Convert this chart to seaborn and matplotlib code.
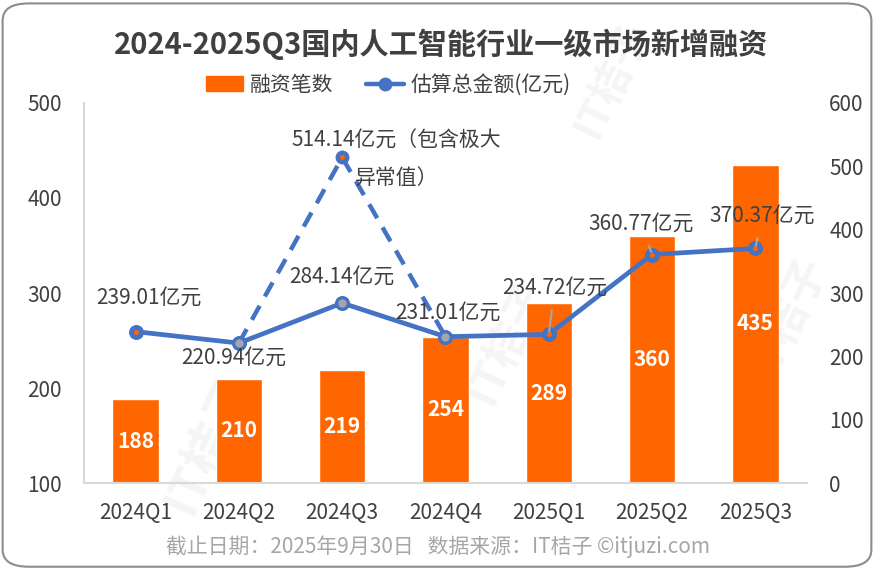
import matplotlib
matplotlib.use('Agg')
import matplotlib.pyplot as plt
from matplotlib.patches import FancyBboxPatch, Patch
from matplotlib.lines import Line2D
import seaborn as sns
import pandas as pd
import numpy as np

# data
quarters = ['2024Q1', '2024Q2', '2024Q3', '2024Q4', '2025Q1', '2025Q2', '2025Q3']
deal_counts = [188, 210, 219, 254, 289, 360, 435]
amounts = [239.01, 220.94, 284.14, 231.01, 234.72, 360.77, 370.37]
outlier_amount = 514.14
outlier_idx = 2

title = '2024-2025Q3国内人工智能行业一级市场新增融资'
footer = '截止日期：2025年9月30日   数据来源：IT桔子 ©itjuzi.com'

ORANGE = '#FF6600'
BLUE = '#4472C4'
TXT = '#404040'

sns.set_style('white')
plt.rcParams['font.family'] = ['Noto Sans CJK SC', 'DejaVu Sans']

fig = plt.figure(figsize=(8.74, 5.69), dpi=100)

# faint watermarks
for (wx, wy, rot, fs) in [(0.24, 0.22, 65, 36), (0.70, 0.86, 65, 30), (0.90, 0.44, 65, 32), (0.58, 0.40, 65, 32)]:
    fig.text(wx, wy, 'IT桔子', rotation=rot, fontsize=fs, color='#f5f5f5',
             ha='center', va='center', fontweight='bold', zorder=-1)

ax = fig.add_axes([0.0961, 0.1511, 0.8272, 0.6679])
ax.patch.set_alpha(0)
df = pd.DataFrame({'quarter': quarters, 'count': deal_counts, 'amount': amounts})
sns.barplot(data=df, x='quarter', y='count', color=ORANGE, width=0.45,
            saturation=1, ax=ax, zorder=2)
ax.set_ylim(100, 500)
ax.set_xlim(-0.5, 6.5)
ax.set_yticks([100, 200, 300, 400, 500])
ax.set_xlabel('')
ax.set_ylabel('')
ax.tick_params(axis='y', length=0, labelsize=15, colors=TXT, pad=16)
ax.tick_params(axis='x', length=0, labelsize=15, colors=TXT, pad=14)
for s in ['top', 'right']:
    ax.spines[s].set_visible(False)
for s in ['left', 'bottom']:
    ax.spines[s].set_color('#d9d9d9')
    ax.spines[s].set_linewidth(1.5)

for i, c in enumerate(deal_counts):
    ax.text(i, (c + 100) / 2, str(c), ha='center', va='center', color='white',
            fontsize=15, fontweight='bold', zorder=3)

ax2 = ax.twinx()
ax2.set_ylim(0, 600)
ax2.set_yticks(range(0, 700, 100))
ax2.tick_params(axis='y', length=0, labelsize=15, colors=TXT, pad=16)
for s in ax2.spines.values():
    s.set_visible(False)

xs = np.arange(len(quarters))
# dashed path through the outlier value
ax2.plot([outlier_idx - 1, outlier_idx, outlier_idx + 1],
         [amounts[outlier_idx - 1], outlier_amount, amounts[outlier_idx + 1]],
         color=BLUE, lw=3.2, dashes=(3.6, 2.4), zorder=2)
ax2.plot(outlier_idx, outlier_amount, 'o', ms=9, mfc=BLUE, mec=BLUE, zorder=2)

sns.lineplot(x=xs, y=amounts, ax=ax2, color=BLUE, lw=3.4, marker='o', ms=10,
             markerfacecolor=BLUE, markeredgecolor=BLUE, zorder=4)
gray_idx = [1, 2, 3]
ax2.plot(xs[gray_idx], np.array(amounts)[gray_idx], 'o', ms=8, mfc='#a6a6a6',
         mec=BLUE, mew=2, zorder=5)
dot_idx = [0, 4, 5, 6]
ax2.plot(xs[dot_idx], np.array(amounts)[dot_idx], 'o', ms=2.5, mfc=ORANGE,
         mec=ORANGE, zorder=6)
ax2.plot(outlier_idx, outlier_amount, 'o', ms=2.5, mfc=ORANGE, mec=ORANGE, zorder=6)

# label offsets in pixels
offsets = [(13, 34), (-5, -15), (0, 26), (2, 24), (6, 47), (-11, 31), (7, 33)]
for i, v in enumerate(amounts):
    kw = {}
    if i >= 4:
        kw['arrowprops'] = dict(arrowstyle='-', color='#a6a6a6', lw=1.5,
                                shrinkA=6, shrinkB=2)
    ax2.annotate(f'{v:.2f}亿元', (i, v), xytext=offsets[i], textcoords='offset pixels',
                 ha='center', va='center', fontsize=15, color=TXT, zorder=7, **kw)

ax2.annotate(f'{outlier_amount:.2f}亿元（包含极大\n异常值）', (outlier_idx, outlier_amount),
             xytext=(54, -2), textcoords='offset pixels', ha='center', va='center',
             multialignment='center', fontsize=15, color=TXT, linespacing=1.85, zorder=7)

ax.set_zorder(1)
ax2.set_zorder(2)

fig.text(0.505, 1 - 44 / 569, title, ha='center', va='center', fontsize=21,
         fontweight='bold', color='#404040')

handles = [Patch(facecolor=ORANGE, edgecolor=ORANGE),
           Line2D([0], [0], color=BLUE, lw=3.2, marker='o', ms=9, mfc=BLUE, mec=BLUE)]
fig.legend(handles, ['融资笔数', '估算总金额(亿元)'], loc='center',
           bbox_to_anchor=(388 / 874, 1 - 85 / 569), ncol=2, frameon=False,
           fontsize=15, handlelength=1.8, columnspacing=1.6, handletextpad=0.3,
           labelcolor=TXT)

fig.text(0.501, 1 - 547 / 569, footer, ha='center', va='center', fontsize=15,
         color='#a6a6a6')

fig.add_artist(FancyBboxPatch((0.003, 0.004), 0.994, 0.99,
                              boxstyle='round,pad=0,rounding_size=0.03',
                              transform=fig.transFigure, fc='none',
                              ec='#8c8c8c', lw=1.5))

fig.savefig('out.png', dpi=100)
